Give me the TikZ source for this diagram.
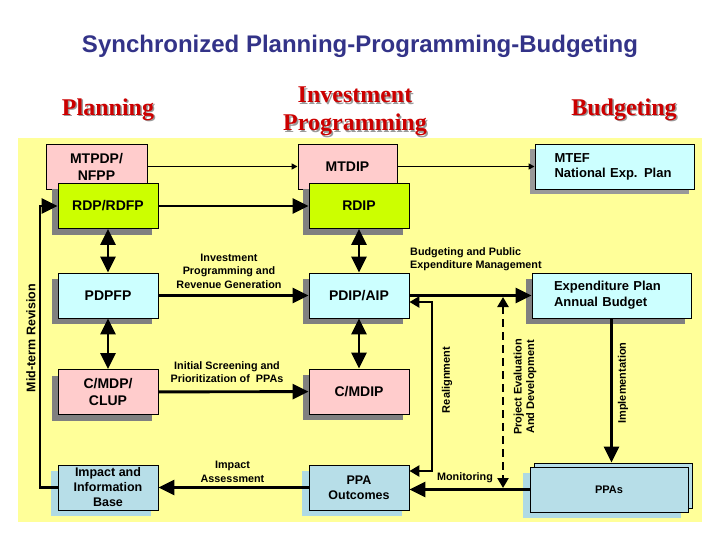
\documentclass[tikz,border=0pt]{standalone}
\usepackage{fontspec}
\setmainfont{Liberation Serif}
\setsansfont{Liberation Sans}
\usetikzlibrary{arrows.meta,shadows,calc}
\definecolor{bgyellow}{RGB}{255,255,153}
\definecolor{boxpink}{RGB}{255,204,204}
\definecolor{boxgreen}{RGB}{204,255,0}
\definecolor{boxcyan}{RGB}{204,255,255}
\definecolor{boxblue}{RGB}{183,222,232}
\definecolor{shadowblue}{RGB}{175,218,228}
\definecolor{titleblue}{RGB}{51,51,136}
\definecolor{headred}{RGB}{204,0,0}
\definecolor{shadowgray}{RGB}{128,128,128}
\newcommand{\fsz}[2]{\fontsize{#1}{#2}\selectfont}
\tikzset{
  box/.style={draw=black, line width=0.9pt, inner sep=0pt, minimum height=45pt, minimum width=100pt, align=center, font=\sffamily\bfseries\fsz{14}{17}},
  gshadow/.style={drop shadow={shadow xshift=-6pt, shadow yshift=-6pt, fill=shadowgray, opacity=1}},
  bshadow/.style={drop shadow={shadow xshift=-7pt, shadow yshift=-6pt, fill=shadowblue, opacity=1}},
  lbl/.style={font=\sffamily\bfseries\fsz{10.8}{13.5}, align=center, inner sep=0pt},
  rlbl/.style={font=\sffamily\bfseries\fsz{11}{12.5}, align=center, inner sep=0pt, rotate=90},
  bigarr/.style={line width=2.9pt, -{Triangle[length=16pt,width=15pt]}},
  bigboth/.style={line width=2.9pt, {Triangle[length=16pt,width=15pt]}-{Triangle[length=16pt,width=15pt]}},
  midboth/.style={line width=2.9pt, {Triangle[length=10pt,width=11pt]}-{Triangle[length=10pt,width=11pt]}},
  smallarr/.style={line width=1.8pt, -{Triangle[length=6pt,width=6pt]}},
  headtxt/.style={font=\rmfamily\bfseries\fsz{24}{28}, text=headred, align=center, inner sep=0pt},
  headshadow/.style={font=\rmfamily\bfseries\fsz{24}{28}, text=shadowgray!80, align=center, inner sep=0pt}
}
\begin{document}
\begin{tikzpicture}[x=1pt,y=-1pt]
\useasboundingbox (0,0) rectangle (720,540);
\fill[white] (0,0) rectangle (720,540);
\fill[bgyellow] (18,138) rectangle (702,522);

% title
\node[font=\sffamily\bfseries\fsz{24}{28}, text=titleblue] (title) at (360,46) {Synchronized Planning-Programming-Budgeting};

% column heads
\node[headshadow] (hplans) at (109.5,111) {Planning};
\node[headtxt] (hplan) at (108,109.5) {Planning};
\node[headshadow] (hinvs) at (356.5,113) {Investment\\Programming};
\node[headtxt] (hinv) at (355,111.5) {Investment\\Programming};
\node[headshadow] (hbuds) at (625.5,111) {Budgeting};
\node[headtxt] (hbud) at (624,109.5) {Budgeting};

% planning column
\node[box, fill=boxpink, minimum width=101pt] (mtpdp) at (96.5,166.5) {MTPDP/\\NFPP};
\node[box, fill=boxgreen, gshadow] (rdp) at (108,206) {RDP/RDFP};
\node[box, fill=boxcyan, gshadow] (pdpfp) at (108,295.5) {PDPFP};
\node[box, fill=boxpink, gshadow] (cmdp) at (108,392) {C/MDP/\\CLUP};
\node[box, fill=boxblue, bshadow, font=\sffamily\bfseries\fsz{12.5}{15}] (impact) at (108,487.5) {Impact and\\Information\\Base};

% programming column
\node[box, fill=boxpink, minimum width=99pt] (mtdip) at (347.5,166.5) {MTDIP};
\node[box, fill=boxgreen, gshadow] (rdip) at (359,206) {RDIP};
\node[box, fill=boxcyan, gshadow] (pdip) at (359,295.5) {PDIP/AIP};
\node[box, fill=boxpink, gshadow] (cmdip) at (359,391.5) {C/MDIP};
\node[box, fill=boxblue, bshadow, font=\sffamily\bfseries\fsz{12.5}{15}] (ppao) at (359,487.5) {PPA\\Outcomes};

% budgeting column
\node[box, fill=boxcyan, drop shadow={shadow xshift=-5pt, shadow yshift=-5pt, fill=shadowgray!80, opacity=1}, minimum width=159pt, text width=120pt, align=left, font=\sffamily\bfseries\fsz{13}{15}] (mtef) at (614.5,166.5) {MTEF\\National Exp. Plan};
\node[box, fill=boxcyan, gshadow, minimum width=159pt, text width=115pt, align=left, font=\sffamily\bfseries\fsz{13}{16}] (exp) at (611.5,295.5) {Expenditure Plan\\Annual Budget};
\node[box, fill=boxblue, minimum width=158pt] (ppasback) at (613,485.5) {};
\node[box, fill=boxblue, bshadow, minimum width=158pt, font=\sffamily\bfseries\fsz{11}{13}] (ppas) at (609,489.5) {PPAs};

% connectors
\draw[smallarr] (mtpdp) -- (mtdip);
\draw[smallarr] (mtdip) -- (mtef);
\draw[bigarr] (rdp) -- (rdip);
\draw[bigboth] (rdp) -- (pdpfp);
\draw[bigboth] (pdpfp) -- (cmdp);
\draw[bigboth] (rdip) -- (pdip);
\draw[bigboth] (pdip) -- (cmdip);
\draw[bigarr] (pdpfp) -- (pdip);
\draw[bigarr] (cmdp) -- (cmdip);
\draw[bigarr] (pdip) -- (exp);
\draw[bigarr] (exp.south) -- (exp.south |- ppasback.north);
\draw[bigarr] (ppas.west) -- (ppao.east |- ppas.west);
\draw[bigarr] (ppao) -- (impact);

\coordinate (ra1) at (432,302);
\coordinate (ra2) at (432,471);
\draw[midboth] (pdip.east |- ra1) -- (ra1) -- (ra2) -- (ppao.east |- ra2);

\coordinate (pe1) at (503,297);
\coordinate (pe2) at (503,488);
\draw[midboth, dash pattern=on 8pt off 5pt] (pe1) -- (pe2);

\coordinate (mtx) at (40,300);
\draw[bigarr] (impact.west) -| (mtx) |- (rdp.west);

% labels
\node[lbl] (l1) at (229,271) {Investment\\Programming and\\Revenue Generation};
\node[lbl] (l2) at (227,372) {Initial Screening and\\Prioritization of \ PPAs};
\node[lbl, align=left, anchor=west] (l3) at (410,259) {Budgeting and Public\\Expenditure Management};
\node[lbl] (l4) at (232.5,472) {Impact\\Assessment};
\node[lbl] (l5) at (465,478) {Monitoring};
\node[rlbl] (l6) at (447,380) {Realignment};
\node[rlbl] (l7) at (525,387) {Project Evaluation\\And Development};
\node[rlbl] (l8) at (623,383) {Implementation};
\node[rlbl, font=\sffamily\bfseries\fsz{12.5}{14}] (l9) at (31,338) {Mid-term Revision};
\end{tikzpicture}
\end{document}
